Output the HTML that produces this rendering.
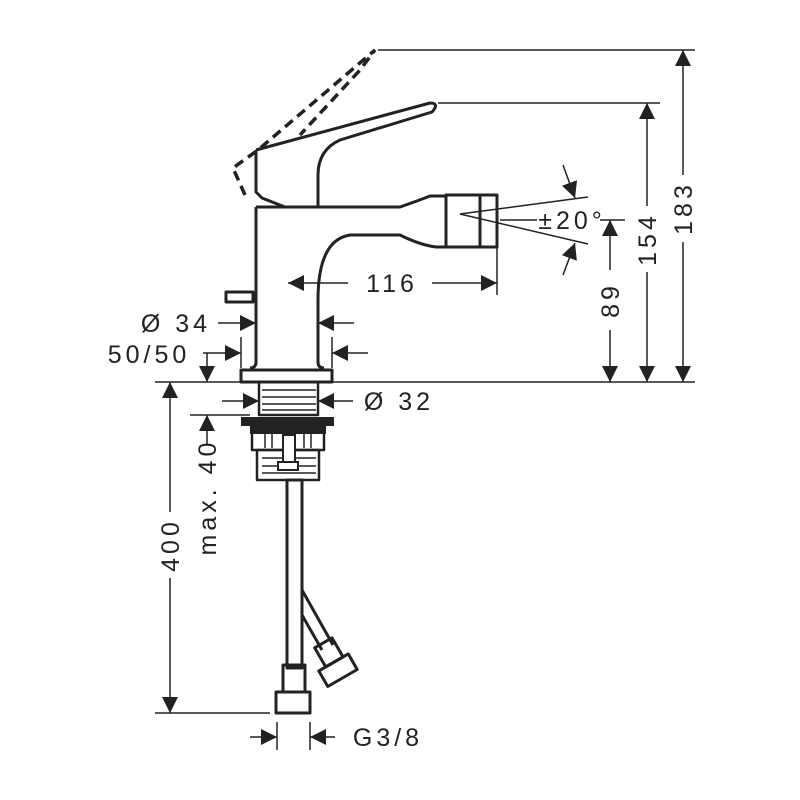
<!DOCTYPE html>
<html><head><meta charset="utf-8"><style>
html,body{margin:0;padding:0;background:#fff}
svg{display:block}
text{font-family:"Liberation Sans","DejaVu Sans",sans-serif;font-size:25px;fill:#222;letter-spacing:4px;text-anchor:middle}
</style></head><body>
<svg width="800" height="800" viewBox="0 0 800 800" xmlns="http://www.w3.org/2000/svg">
<defs>
<marker id="a" viewBox="0 0 10 10" refX="10" refY="5" markerWidth="16" markerHeight="16" markerUnits="userSpaceOnUse" orient="auto"><path d="M0,0 L10,5 L0,10 z" fill="#222"/></marker>
</defs>
<g stroke="#222" fill="none" stroke-width="1.5">
<line x1="378" y1="50" x2="695" y2="50"/>
<line x1="438" y1="103" x2="660" y2="103"/>
<line x1="155" y1="382" x2="695" y2="382"/>
<line x1="190" y1="415" x2="250" y2="415"/>
<line x1="155" y1="713" x2="270" y2="713"/>
<line x1="497" y1="247" x2="497" y2="295"/>
<line x1="241" y1="337" x2="241" y2="368"/>
<line x1="332" y1="337" x2="332" y2="368"/>
<line x1="277" y1="722" x2="277" y2="750"/>
<line x1="310" y1="722" x2="310" y2="750"/>
<line x1="500" y1="220" x2="537" y2="220"/>
<line x1="600" y1="220" x2="625" y2="220"/>
<line x1="460" y1="214" x2="588" y2="197"/>
<line x1="460" y1="214" x2="588" y2="244"/>
<line x1="683" y1="175" x2="683" y2="50" marker-end="url(#a)"/>
<line x1="683" y1="242" x2="683" y2="382" marker-end="url(#a)"/>
<line x1="647" y1="206" x2="647" y2="103" marker-end="url(#a)"/>
<line x1="647" y1="272" x2="647" y2="382" marker-end="url(#a)"/>
<line x1="610" y1="270" x2="610" y2="220" marker-end="url(#a)"/>
<line x1="610" y1="330" x2="610" y2="382" marker-end="url(#a)"/>
<line x1="170" y1="512" x2="170" y2="382" marker-end="url(#a)"/>
<line x1="170" y1="578" x2="170" y2="713" marker-end="url(#a)"/>
<line x1="207" y1="444" x2="207" y2="415" marker-end="url(#a)"/>
<line x1="207" y1="353" x2="207" y2="382" marker-end="url(#a)"/>
<line x1="348" y1="283" x2="288" y2="283" marker-end="url(#a)"/>
<line x1="432" y1="283" x2="497" y2="283" marker-end="url(#a)"/>
<line x1="218" y1="323" x2="256" y2="323" marker-end="url(#a)"/>
<line x1="354" y1="323" x2="318" y2="323" marker-end="url(#a)"/>
<line x1="203" y1="353" x2="241" y2="353" marker-end="url(#a)"/>
<line x1="368" y1="353" x2="332" y2="353" marker-end="url(#a)"/>
<line x1="222" y1="401" x2="259" y2="401" marker-end="url(#a)"/>
<line x1="353" y1="401" x2="318" y2="401" marker-end="url(#a)"/>
<line x1="250" y1="737" x2="277" y2="737" marker-end="url(#a)"/>
<line x1="335" y1="737" x2="310" y2="737" marker-end="url(#a)"/>
<line x1="563" y1="165" x2="575" y2="198" marker-end="url(#a)"/>
<line x1="563" y1="275" x2="575" y2="243" marker-end="url(#a)"/>
</g>
<g stroke="#222" fill="none" stroke-width="3" stroke-linejoin="round">
<path d="M256,150 L256,192 L262,198 L285,207" />
<path d="M256,150 L430,103 Q440,103 432,112 L340,140 Q318,150 318,175 L318,207"/>
<path d="M256,207 L400,207 Q420,200 430,196 L446,196"/>
<path d="M256,207 L256,362 Q256,368 250,368"/>
<path d="M446,247 L436,247 Q420,245 400,235 L350,235 Q318,240 318,300 L318,362 Q318,368 324,368"/>
<path d="M446,195 L497,195 L497,247 L446,247 Z M480,195 L480,247"/>
<rect x="226" y="292" width="27" height="10"/>
<rect x="241" y="370" width="91" height="12"/>
<rect x="259" y="382" width="59" height="33" stroke-width="2.5"/>
<rect x="252" y="432" width="72" height="18" stroke-width="2.5"/>
<rect x="257" y="450" width="62" height="30" stroke-width="2.5"/>
<rect x="287" y="480" width="15" height="188"/>
<rect x="283" y="665" width="22" height="27"/>
<rect x="276" y="692" width="34" height="21"/>
<path d="M302,590 L333,645 M302,615 L322,650"/>
<g transform="rotate(-30 335 665)"><rect x="326" y="640" width="20" height="22"/><rect x="318" y="662" width="34" height="18"/></g>
</g>
<g stroke="#222" stroke-width="1.5">
<line x1="262" y1="390" x2="316" y2="390"/><line x1="262" y1="397" x2="316" y2="397"/><line x1="262" y1="404" x2="316" y2="404"/><line x1="262" y1="410" x2="316" y2="410"/>
<line x1="262" y1="458" x2="316" y2="458"/><line x1="262" y1="466" x2="316" y2="466"/><line x1="262" y1="473" x2="316" y2="473"/>
<line x1="265" y1="434" x2="265" y2="448"/><line x1="272" y1="434" x2="272" y2="448"/><line x1="304" y1="434" x2="304" y2="448"/><line x1="311" y1="434" x2="311" y2="448"/>
</g>
<rect x="241" y="417" width="93" height="9" fill="#222"/>
<rect x="250" y="426" width="76" height="8" fill="#222"/>
<rect x="283" y="435" width="12" height="28" fill="#fff" stroke="#222" stroke-width="2"/>
<rect x="278" y="462" width="20" height="8" fill="#fff" stroke="#222" stroke-width="2"/>
<g stroke="#222" fill="none" stroke-width="3.5" stroke-dasharray="10,6">
<path d="M245,195 L233,168 L258,150 L375,50 L360,70 L300,135"/>
</g>
<text x="392" y="292">116</text>
<text x="572" y="229">±20°</text>
<text x="176" y="332">Ø 34</text>
<text x="149" y="363">50/50</text>
<text x="399" y="410">Ø 32</text>
<text x="388" y="746">G3/8</text>
<text transform="translate(692,208) rotate(-90)">183</text>
<text transform="translate(656,239) rotate(-90)">154</text>
<text transform="translate(619,300) rotate(-90)">89</text>
<text transform="translate(179,545) rotate(-90)">400</text>
<text transform="translate(216,497) rotate(-90)">max. 40</text>
</svg>
</body></html>
